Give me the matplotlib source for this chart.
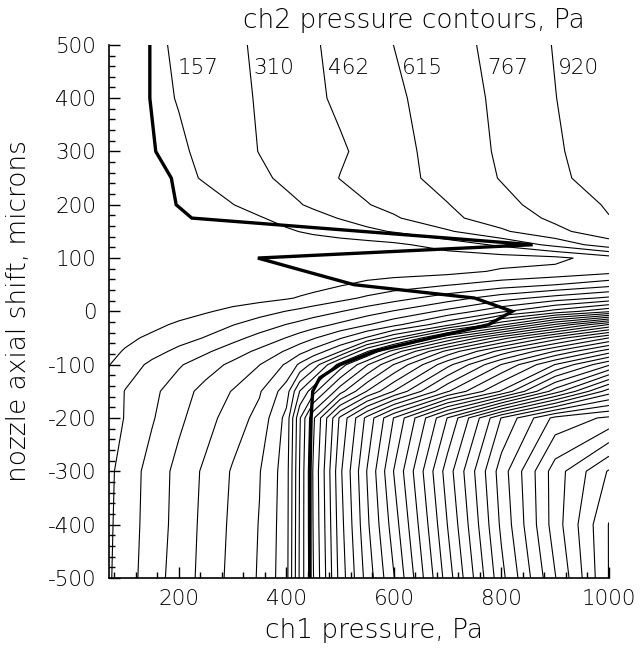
import numpy as np
import matplotlib
matplotlib.use("Agg")
import matplotlib.pyplot as plt
from matplotlib.ticker import MultipleLocator

plt.rcParams['font.family'] = ['DejaVu Sans']
plt.rcParams['font.weight'] = 'light'
plt.rcParams['axes.labelweight'] = 'light'
plt.rcParams['axes.unicode_minus'] = False

# grid of the map: ch1 pressure (Pa) columns, nozzle shift (microns) rows
ch1_cols = [70, 100, 150, 200, 250, 300, 350, 400, 425, 450, 500, 550, 600, 700, 800, 900, 1000]
shift_rows = [-500, -400, -300, -200, -150, -100, -75, -50, -25, 0, 25, 50,
              75, 100, 125, 150, 175, 200, 250, 300, 400, 500]

# ch2 pressure (Pa) along each row, read back from the contour positions
p2_m500 = [294, 386, 546, 684, 821, 966, 1088, 1317, 1866, 2286, 2965, 3423, 3812, 4659, 5452, 6100, 6725]
p2_m400 = [287, 378, 531, 668, 813, 951, 1080, 1309, 1859, 2301, 2995, 3484, 3896, 4740, 5529, 6185, 6725]
p2_m300 = [279, 371, 523, 661, 798, 935, 1065, 1302, 1851, 2309, 3026, 3520, 3978, 4811, 5574, 6185, 6582]
p2_m200 = [241, 317, 447, 584, 706, 844, 966, 1271, 1820, 2263, 2934, 3407, 3825, 4590, 5352, 5849, 5986]
p2_m150 = [203, 316, 424, 546, 668, 775, 905, 1149, 1536, 1775, 2232, 2605, 2910, 3499, 3987, 4659, 5269]
p2_m100 = [152, 229, 343, 445, 545, 648, 764, 940, 1103, 1276, 1750, 2126, 2452, 3011, 3520, 3978, 4407]
p2_m75 = [117, 169, 258, 345, 439, 540, 648, 784, 870, 967, 1215, 1666, 2057, 2649, 3116, 3522, 3903]
p2_m50 = [97, 123, 186, 255, 319, 415, 513, 620, 684, 752, 905, 1094, 1347, 2004, 2538, 2980, 3368]
p2_m25 = [70, 84, 119, 181, 242, 304, 381, 466, 506, 552, 647, 757, 876, 1181, 1652, 2164, 2614]
p2_0 = [47, 56, 71, 97, 142, 195, 252, 314, 346, 383, 455, 539, 626, 810, 1040, 1280, 1500]
p2_25 = [40, 44, 53, 61, 71, 87, 108, 142, 169, 201, 265, 334, 400, 540, 700, 830, 950]
p2_50 = [30, 35, 40, 44, 52, 58, 65, 78, 87, 96, 145, 194, 233, 300, 380, 460, 560]
p2_75 = [26, 27, 30, 35, 40, 44, 50, 58, 61, 65, 73, 81, 90, 111, 175, 200, 260]
p2_100 = [20, 20, 23, 26, 29, 32, 35, 39, 43, 46, 52, 61, 65, 78, 93, 119, 233]
p2_125 = [20, 23, 29, 35, 41, 47, 56, 65, 70, 75, 87, 102, 126, 223, 340, 508, 706]
p2_150 = [26, 30, 38, 47, 61, 78, 102, 137, 160, 183, 227, 273, 322, 444, 592, 734, 844]
p2_175 = [35, 40, 47, 58, 75, 101, 146, 203, 232, 261, 317, 381, 444, 581, 691, 793, 915]
p2_200 = [44, 52, 61, 78, 105, 154, 213, 274, 303, 334, 393, 455, 506, 610, 725, 833, 935]
p2_250 = [61, 70, 87, 120, 171, 227, 282, 339, 366, 395, 466, 513, 563, 667, 775, 886, 996]
p2_300 = [61, 70, 90, 134, 192, 253, 314, 357, 378, 401, 444, 500, 566, 680, 787, 900, 1012]
p2_400 = [75, 87, 116, 165, 218, 270, 323, 380, 407, 435, 488, 539, 589, 693, 798, 917, 1027]
p2_500 = [79, 91, 128, 178, 230, 281, 334, 390, 418, 447, 503, 560, 616, 711, 815, 928, 1042]

# contour levels, Pa
levels = [157, 310, 462, 615, 767, 920, 1073, 1225, 1378, 1530, 1683, 1836, 1988,
          2141, 2293, 2446, 2599, 2751, 2904, 3056, 3209, 3362, 3514, 3667, 3819,
          3972, 4125, 4277, 4430, 4582, 4735, 4888, 5040, 5193, 5345, 5498, 5651,
          5803, 5956, 6108, 6261, 6414, 6566, 6719, 6872]
labelled = [157, 310, 462, 615, 767, 920]

# thick line (operating curve)
op_ch1 = [146, 146, 157, 186, 195, 224, 858, 347, 436, 526, 750, 820, 776, 669,
          564, 500, 462, 449, 446, 444, 444, 444]
op_shift = [500, 400, 300, 250, 200, 175, 125, 100, 75, 50, 25, 0, -25, -50,
            -75, -100, -125, -150, -200, -300, -400, -500]

ch2 = np.array([p2_m500, p2_m400, p2_m300, p2_m200, p2_m150, p2_m100, p2_m75,
                p2_m50, p2_m25, p2_0, p2_25, p2_50, p2_75, p2_100, p2_125,
                p2_150, p2_175, p2_200, p2_250, p2_300, p2_400, p2_500])
X, Y = np.meshgrid(ch1_cols, shift_rows)

fig = plt.figure(figsize=(6.41, 6.50), dpi=100)
ax = fig.add_axes([0.170, 0.111, 0.780, 0.820])

ax.contour(X, Y, ch2, levels=levels, colors='k', linewidths=0.8)
ax.plot(op_ch1, op_shift, color='k', lw=2.4, solid_joinstyle='miter')

fs_tick = 15.5
fs_lab = 19
# labels of the first contours, written along the top
lab_x = [197, 338, 477, 614, 774, 905]
for xv, val in zip(lab_x, labelled):
    ax.text(xv, 457, str(val), fontsize=fs_tick, ha='left', va='center')

fig.text(0.646, 0.969, 'ch2 pressure contours, Pa', fontsize=fs_lab, ha='center', va='center')

ax.set_xlim(70, 1000)
ax.set_ylim(-500, 500)
ax.xaxis.set_major_locator(MultipleLocator(200))
ax.xaxis.set_minor_locator(MultipleLocator(40))
ax.yaxis.set_major_locator(MultipleLocator(100))
ax.yaxis.set_minor_locator(MultipleLocator(20))
ax.tick_params(which='both', direction='in', width=1, labelsize=fs_tick)
ax.tick_params(which='major', length=8)
ax.tick_params(which='minor', length=4.5)
ax.tick_params(axis='y', pad=9)
ax.tick_params(axis='x', pad=8)
ax.spines['top'].set_visible(False)
ax.spines['right'].set_visible(False)
ax.spines['left'].set_linewidth(1.2)
ax.spines['bottom'].set_linewidth(1.2)

ax.set_xlabel('ch1 pressure, Pa', fontsize=fs_lab)
ax.set_ylabel('nozzle axial shift, microns', fontsize=fs_lab)
ax.xaxis.set_label_coords(0.53, -0.075)
ax.yaxis.set_label_coords(-0.155, 0.5)

fig.savefig('out.png', dpi=100)
